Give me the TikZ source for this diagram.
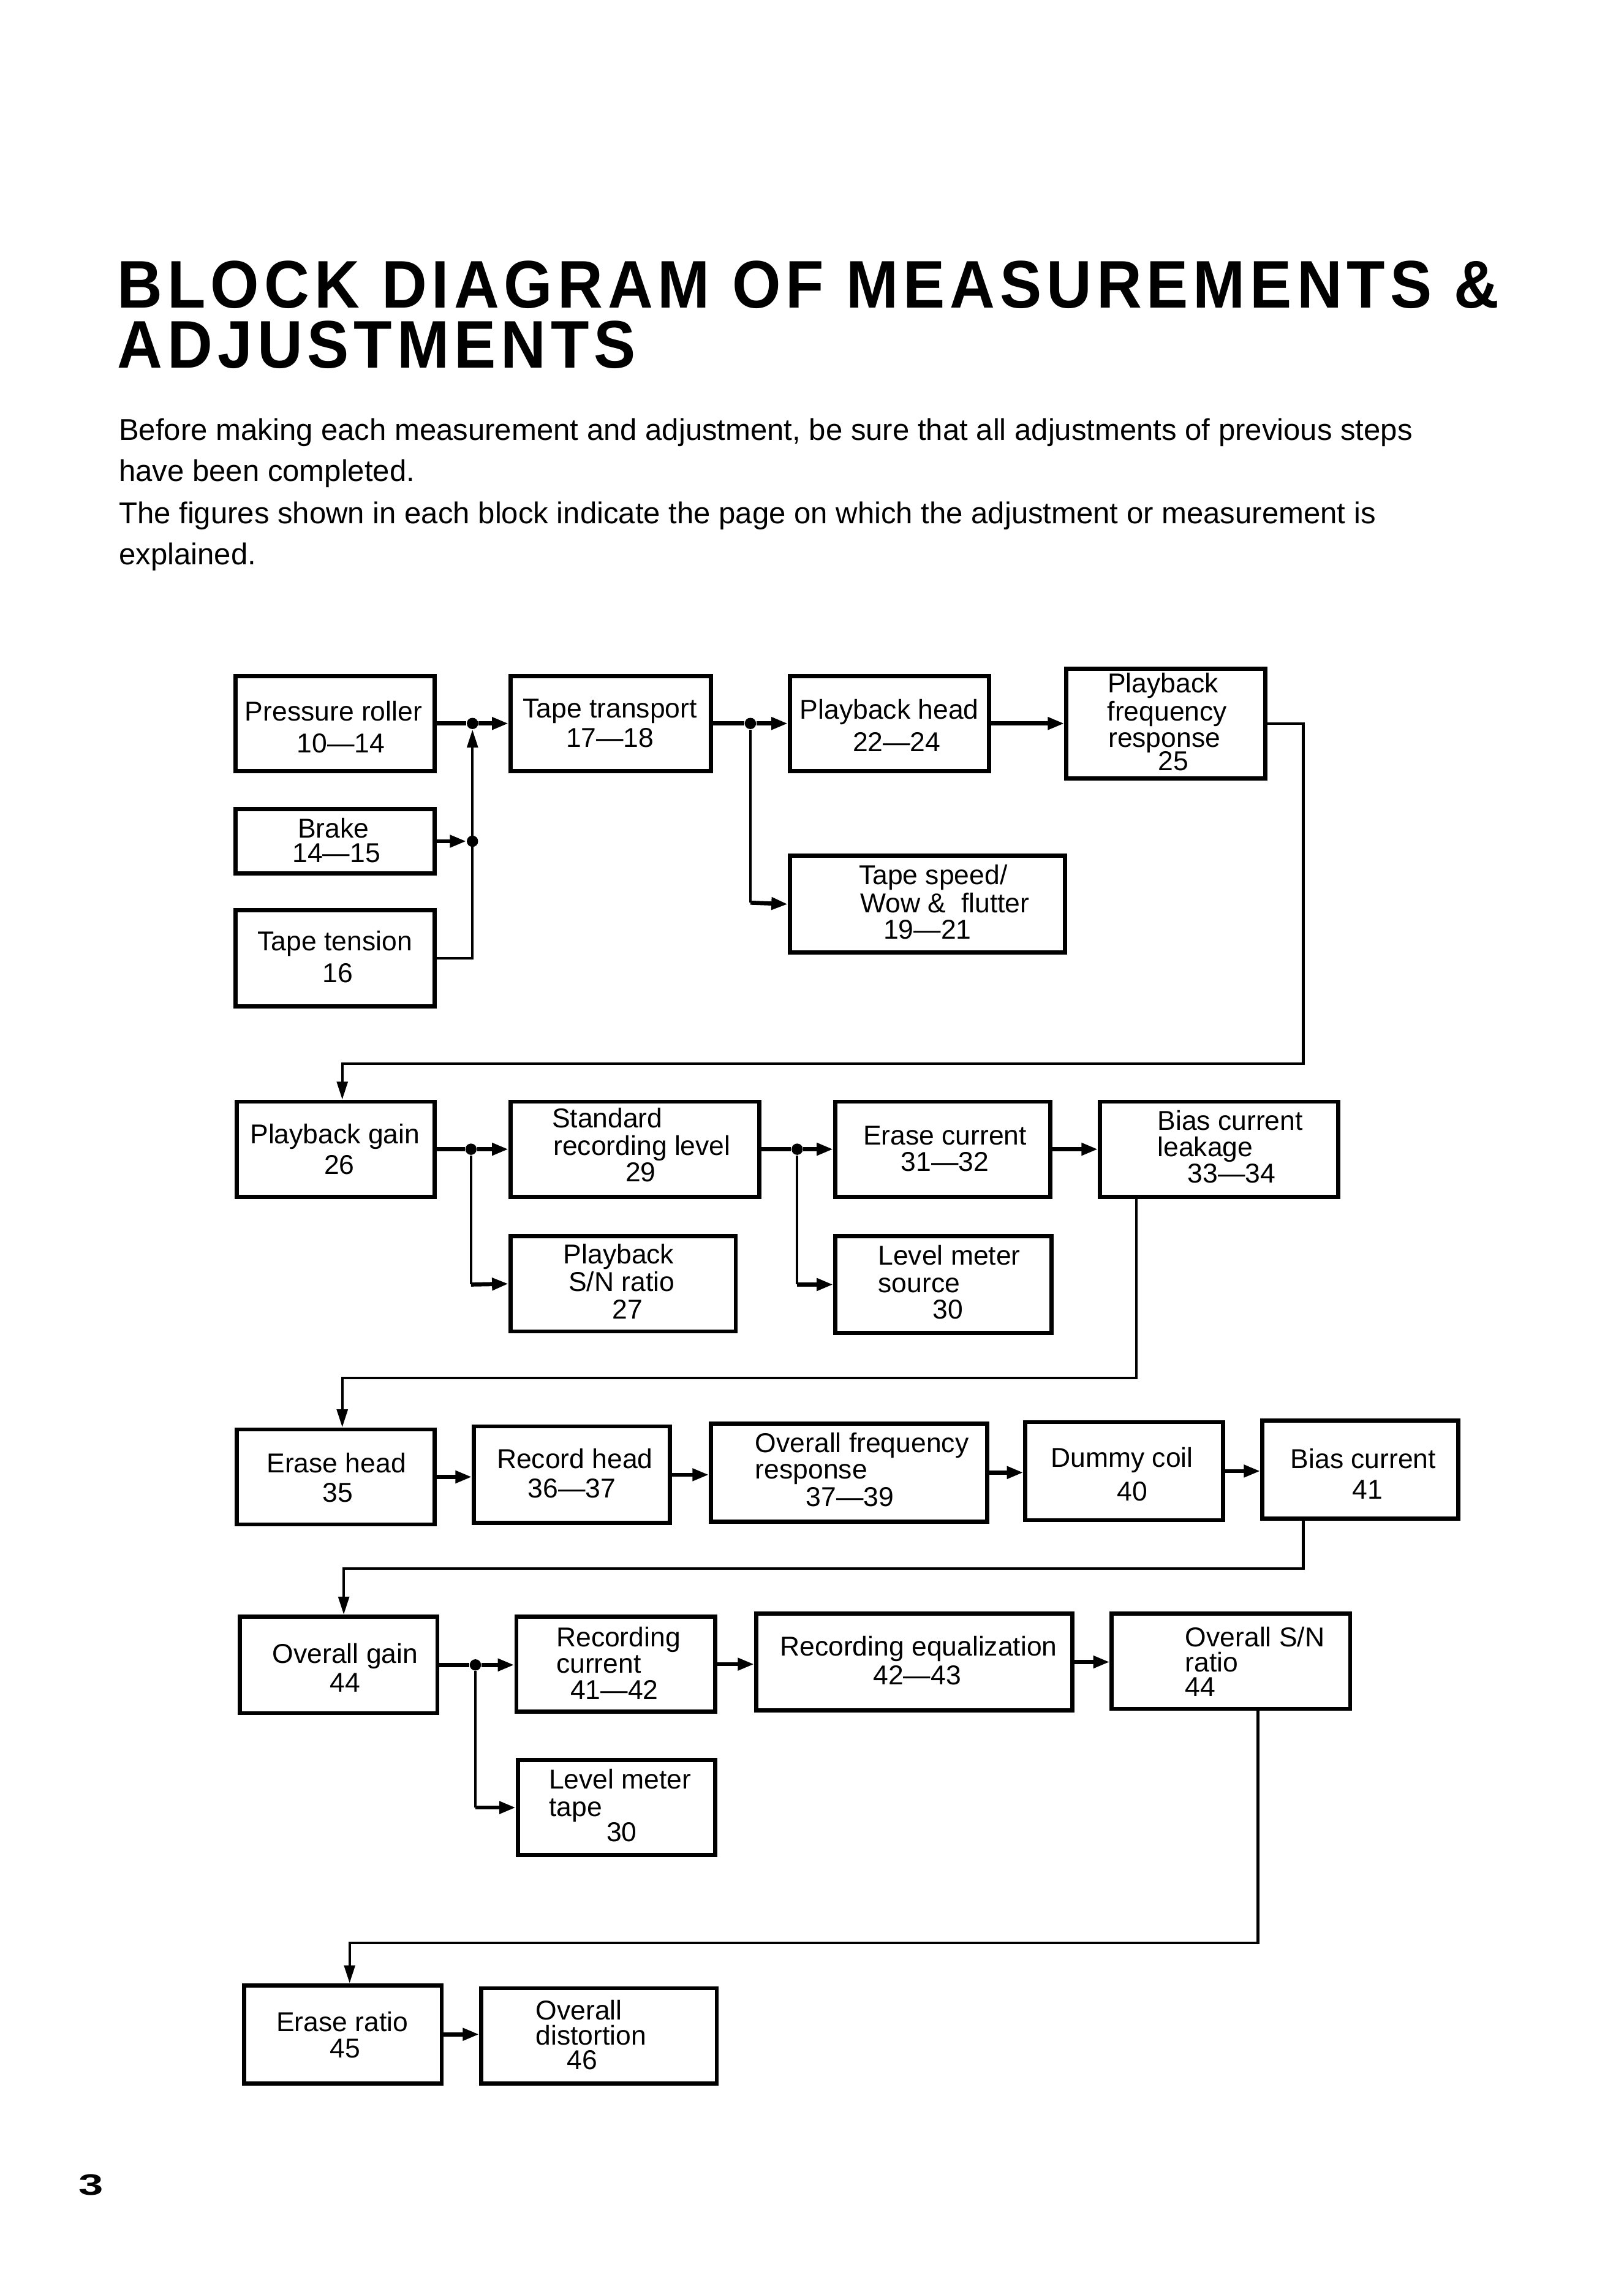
\documentclass[tikz,border=0pt]{standalone}
\usepackage{fontspec}
\setmainfont{Liberation Sans}
\newfontfamily\ttlfont[FakeStretch=0.93,LetterSpace=7.2]{Liberation Sans}
\newfontfamily\pgnfont[FakeStretch=1.5]{Liberation Sans}
\usetikzlibrary{arrows.meta}
\newcommand\mkbox[5]{\node[blk,minimum width={(#4-#2)*0.02cm},minimum height={(#5-#3)*0.02cm}] (#1) at ({(#2+#4)/2},{(#3+#5)/2}) {};}
\newcommand\ctext[4]{\node[tx,anchor=mid] (#1) at (#2,#3) {#4};}
\newcommand\ltext[4]{\node[tx,anchor=mid west] (#1) at (#2,#3) {#4};}
\begin{document}
\begin{tikzpicture}[x=0.02cm,y=-0.02cm,
  blk/.style={draw, line width=1.6pt, inner sep=0pt, rectangle},
  tx/.style={inner sep=0pt, font=\fontsize{10.6pt}{12pt}\selectfont},
  body/.style={inner sep=0pt, anchor=base west, font=\fontsize{11.7pt}{15.9pt}\selectfont},
  ttl/.style={inner sep=0pt, anchor=base west, font=\ttlfont\fontsize{26.2pt}{30pt}\selectfont\bfseries},
  conn/.style={line width=1pt},
  thk/.style={line width=1.6pt},
  arr/.style={-{Triangle[length=6.4pt,width=4.6pt]}},
  varr/.style={-{Triangle[length=7pt,width=4.2pt]}},
  dot/.style={circle, fill, inner sep=0pt, minimum size=4.4pt}]
\fill[white] (0,0) rectangle (1110,1568);
\useasboundingbox (0,0) rectangle (1110,1568);

% title and introduction
\node[ttl] (title1) at (80,210.5) {BLOCK DIAGRAM OF MEASUREMENTS \&};
\node[ttl] (title2) at (80,251.5) {ADJUSTMENTS};
\node[body] (intro1) at (81,301) {Before making each measurement and adjustment, be sure that all adjustments of previous steps};
\node[body] (intro2) at (81,329) {have been completed.};
\node[body] (intro3) at (81,358) {The figures shown in each block indicate the page on which the adjustment or measurement is};
\node[body] (intro4) at (81,386) {explained.};
\node[inner sep=0pt, anchor=base west, font=\pgnfont\fontsize{11.5pt}{14pt}\selectfont\bfseries] (pageno) at (53.5,1500.5) {3};

% ---------- row 1
\mkbox{pr}{161}{462}{297}{527}
\ctext{pr1}{228}{488}{Pressure roller}
\ctext{pr2}{233}{510}{10---14}
\mkbox{br}{161}{553}{297}{597}
\ctext{br1}{228}{568}{Brake}
\ctext{br2}{230}{585}{14---15}
\mkbox{tn}{161}{622}{297}{688}
\ctext{tn1}{229}{645}{Tape tension}
\ctext{tn2}{231}{667}{16}
\mkbox{tt}{349}{462}{486}{527}
\ctext{tt1}{417}{486}{Tape transport}
\ctext{tt2}{417}{506}{17---18}
\mkbox{ph}{540}{462}{676}{527}
\ctext{ph1}{608}{487}{Playback head}
\ctext{ph2}{613}{509}{22---24}
\mkbox{pf}{729}{457}{865}{532}
\ctext{pf1}{795}{469}{Playback}
\ctext{pf2}{798}{488}{frequency}
\ctext{pf3}{796}{506}{response}
\ctext{pf4}{802}{522}{25}
\mkbox{ts}{540}{585}{728}{651}
\ctext{ts1}{638}{600}{Tape speed/}
\ctext{ts2}{646}{619}{Wow \&\ \ flutter}
\ctext{ts3}{634}{637}{19---21}

% ---------- row 2
\mkbox{pg}{162}{753}{297}{818}
\ctext{pg1}{229}{777}{Playback gain}
\ctext{pg2}{232}{798}{26}
\mkbox{sr}{349}{753}{519}{818}
\ltext{sr1}{377}{766}{Standard}
\ltext{sr2}{378}{785}{recording level}
\ctext{sr3}{438}{803}{29}
\mkbox{ec}{571}{753}{718}{818}
\ctext{ec1}{646}{778}{Erase current}
\ctext{ec2}{646}{796}{31---32}
\mkbox{bl}{752}{753}{915}{818}
\ltext{bl1}{791}{768}{Bias current}
\ltext{bl2}{791}{786}{leakage}
\ctext{bl3}{842}{804}{33---34}
\mkbox{sn}{349}{845}{503}{910}
\ctext{sn1}{423}{859}{Playback}
\ctext{sn2}{425}{878}{S/N ratio}
\ctext{sn3}{429}{897}{27}
\mkbox{ls}{571}{845}{719}{911}
\ltext{ls1}{600}{860}{Level meter}
\ltext{ls2}{600}{879}{source}
\ctext{ls3}{648}{897}{30}

% ---------- row 3
\mkbox{eh}{162}{977}{297}{1042}
\ctext{eh1}{230}{1002}{Erase head}
\ctext{eh2}{231}{1022}{35}
\mkbox{rh}{324}{975}{458}{1041}
\ctext{rh1}{393}{999}{Record head}
\ctext{rh2}{391}{1019}{36---37}
\mkbox{of}{486}{973}{675}{1040}
\ltext{of1}{516}{988}{Overall frequency}
\ltext{of2}{516}{1006}{response}
\ctext{of3}{581}{1025}{37---39}
\mkbox{dc}{701}{972}{836}{1039}
\ctext{dc1}{767}{998}{Dummy coil}
\ctext{dc2}{774}{1021}{40}
\mkbox{bc}{863}{971}{997}{1038}
\ctext{bc1}{932}{999}{Bias current}
\ctext{bc2}{935}{1020}{41}

% ---------- row 4
\mkbox{og}{164}{1105}{299}{1171}
\ctext{og1}{236}{1132}{Overall gain}
\ctext{og2}{236}{1152}{44}
\mkbox{rc}{353}{1105}{489}{1170}
\ltext{rc1}{380}{1121}{Recording}
\ltext{rc2}{380}{1139}{current}
\ctext{rc3}{420}{1157}{41---42}
\mkbox{re}{517}{1103}{733}{1169}
\ctext{re1}{628}{1127}{Recording equalization}
\ctext{re2}{627}{1147}{42---43}
\mkbox{os}{760}{1103}{923}{1168}
\ltext{os1}{810}{1121}{Overall S/N}
\ltext{os2}{810}{1138}{ratio}
\ltext{os3}{810}{1155}{44}
\mkbox{lt}{354}{1203}{489}{1268}
\ltext{lt1}{375}{1218}{Level meter}
\ltext{lt2}{375}{1237}{tape}
\ctext{lt3}{425}{1254}{30}

% ---------- row 5
\mkbox{er}{167}{1357}{302}{1424}
\ctext{er1}{234}{1384}{Erase ratio}
\ctext{er2}{236}{1402}{45}
\mkbox{od}{329}{1359}{490}{1424}
\ltext{od1}{366}{1376}{Overall}
\ltext{od2}{366}{1393}{distortion}
\ctext{od3}{398}{1410}{46}

% ---------- junctions
\node[dot] (j1) at (323,494.5) {};
\node[dot] (jb) at (323,575) {};
\node[dot] (j2) at (513,494.5) {};
\node[dot] (j3) at (322,785.5) {};
\node[dot] (j4) at (545,785.5) {};
\node[dot] (j5) at (325,1138) {};

% ---------- connectors row 1
\draw[thk] (pr.east) -- (j1);
\draw[thk,arr] (j1) -- (j1 -| tt.west);
\draw[thk,arr] (br.east) -- (jb);
\draw[conn,varr] (tn.east) -- (tn.east -| j1) -- (j1);
\draw[thk] (tt.east) -- (j2);
\draw[thk,arr] (j2) -- (j2 -| ph.west);
\draw[conn] (j2) -- (513,617);
\draw[thk,arr] (513,617) -- (ts.west);
\draw[thk,arr] (ph.east) -- (ph.east -| pf.west);
\draw[conn,varr] (pf.east) -- (891,494.5) -- (891,727) -| (pg.north -| 234,0);

% ---------- connectors row 2
\draw[thk] (pg.east) -- (j3);
\draw[thk,arr] (j3) -- (j3 -| sr.west);
\draw[conn] (j3) -- (322,878);
\draw[thk,arr] (322,878) -- (sn.west);
\draw[thk] (sr.east) -- (j4);
\draw[thk,arr] (j4) -- (j4 -| ec.west);
\draw[conn] (j4) -- (545,878);
\draw[thk,arr] (545,878) -- (ls.west);
\draw[thk,arr] (ec.east) -- (ec.east -| bl.west);
\draw[conn,varr] (bl.south -| 777,0) -- (777,942) -| (eh.north -| 234,0);

% ---------- connectors row 3
\draw[thk,arr] (eh.east) -- (eh.east -| rh.west);
\draw[thk,arr] (rh.east) -- (rh.east -| of.west);
\draw[thk,arr] (of.east) -- (of.east -| dc.west);
\draw[thk,arr] (dc.east) -- (dc.east -| bc.west);
\draw[conn,varr] (bc.south -| 891,0) -- (891,1072) -| (og.north -| 235,0);

% ---------- connectors row 4
\draw[thk] (og.east) -- (j5);
\draw[thk,arr] (j5) -- (j5 -| rc.west);
\draw[conn] (j5) -- (325,1235.5);
\draw[thk,arr] (325,1235.5) -- (lt.west);
\draw[thk,arr] (rc.east) -- (rc.east -| re.west);
\draw[thk,arr] (re.east) -- (re.east -| os.west);
\draw[conn,varr] (os.south -| 860,0) -- (860,1328) -| (er.north -| 239,0);

% ---------- connectors row 5
\draw[thk,arr] (er.east) -- (er.east -| od.west);
\end{tikzpicture}
\end{document}
